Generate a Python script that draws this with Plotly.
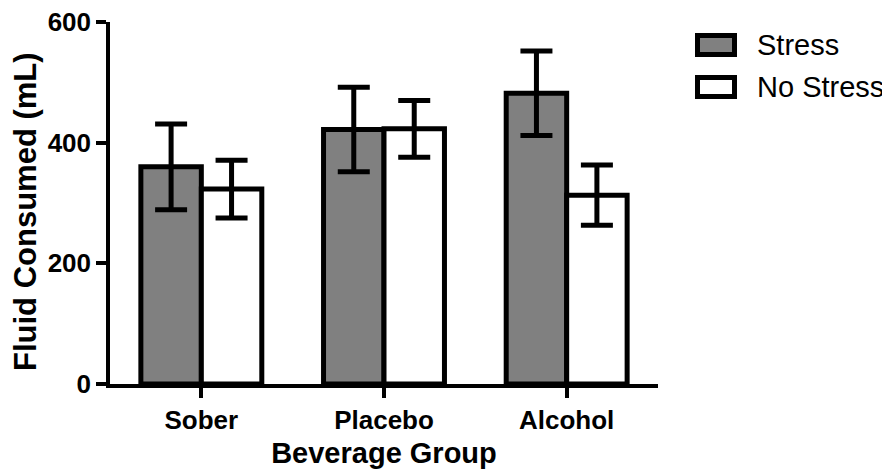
import plotly.graph_objects as go

categories = ["Sober", "Placebo", "Alcohol"]
stress = [360, 422, 482]
stress_err = [71, 70, 70]
no_stress = [323, 423, 313]
no_stress_err = [48, 47, 50]
series_names = ["Stress", "No Stress"]
y_ticks = [0, 200, 400, 600]

FONT = "Arial, Liberation Sans, Helvetica, sans-serif"

# page has an 8px body margin: work in figure pixel coordinates
OFF = 8
W, H = 890 - OFF, 472 - OFF
L, R, T, B = 110 - OFF, 658 - OFF, 22 - OFF, 384 - OFF


def px(x):
    return (x - OFF - L) / (R - L)


def py(y):
    return (B - (y - OFF)) / (B - T)


fig = go.Figure()
fig.add_trace(go.Bar(
    x=categories, y=stress, name=series_names[0],
    marker=dict(color="#808080", line=dict(color="black", width=5)),
    error_y=dict(type="data", array=stress_err, visible=True,
                 color="black", thickness=5, width=16),
    showlegend=False,
))
fig.add_trace(go.Bar(
    x=categories, y=no_stress, name=series_names[1],
    marker=dict(color="white", line=dict(color="black", width=5)),
    error_y=dict(type="data", array=no_stress_err, visible=True,
                 color="black", thickness=5, width=16),
    showlegend=False,
))

# legend drawn manually (page pixel positions)
fills = ["#808080", "white"]
centers = [45, 87]
shapes = []
annotations = []
for name, fill, cy in zip(series_names, fills, centers):
    shapes.append(dict(type="rect", xref="paper", yref="paper",
                       x0=px(697.5), x1=px(734.5), y0=py(cy - 9.5), y1=py(cy + 9.5),
                       fillcolor=fill, line=dict(color="black", width=5)))
    annotations.append(dict(xref="paper", yref="paper", x=px(756), y=py(cy),
                            text=name, showarrow=False, xanchor="left", yanchor="middle",
                            borderpad=0,
                            font=dict(family=FONT, size=29, color="black")))

# y-axis title
annotations.append(dict(xref="paper", yref="paper", x=px(25), y=py(212),
                        text="<b>Fluid Consumed (mL)</b>", textangle=-90, showarrow=False,
                        xanchor="center", yanchor="middle", borderpad=0,
                        font=dict(family=FONT, size=31, color="black")))

fig.update_layout(
    width=W, height=H,
    margin=dict(l=L, r=W - R, t=T, b=H - B, pad=0, autoexpand=False),
    paper_bgcolor="white", plot_bgcolor="white",
    barmode="group", bargap=0.338, bargroupgap=0,
    shapes=shapes, annotations=annotations,
    font=dict(family=FONT, color="black"),
)
fig.update_xaxes(
    range=[-0.5, 2.5], showline=True, linecolor="black", linewidth=3.5,
    ticks="outside", ticklen=10, tickwidth=3.5, tickcolor="black",
    tickfont=dict(family=FONT, size=26, color="black", weight="bold"),
    title=dict(text="<b>Beverage Group</b>", font=dict(family=FONT, size=29), standoff=10),
    showgrid=False, zeroline=False, automargin=False, ticklabeloverflow="allow",
)
fig.update_yaxes(
    range=[0, 600], tickvals=y_ticks, showline=True, linecolor="black", linewidth=3.5,
    ticks="outside", ticklen=10, tickwidth=3.5, tickcolor="black",
    tickfont=dict(family=FONT, size=26, color="black", weight="bold"),
    showgrid=False, zeroline=False, automargin=False, ticklabeloverflow="allow",
)

fig.write_html("out.html")
